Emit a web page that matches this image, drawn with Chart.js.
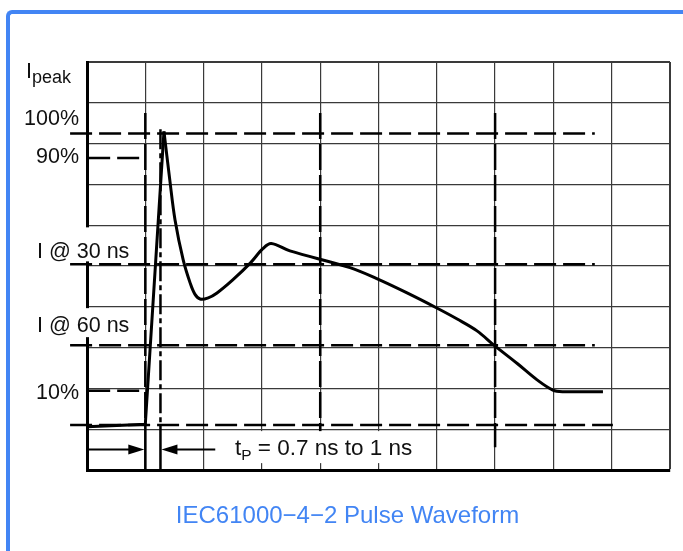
<!DOCTYPE html>
<html>
<head>
<meta charset="utf-8">
<title>IEC61000-4-2 Pulse Waveform</title>
<script src="https://cdn.jsdelivr.net/npm/chart.js@4.4.1/dist/chart.umd.min.js"></script>
<style>
  html, body { margin: 0; padding: 0; background: #fff; overflow: hidden; }
  #frame {
    position: absolute; left: 6px; top: 10px; width: 720px; height: 600px;
    border-top: 4px solid #4285f4; border-left: 4px solid #4285f4;
    border-top-left-radius: 6px;
  }
  #wrap { position: absolute; left: 0; top: 0; width: 683px; height: 551px; }
  #caption {
    position: absolute; left: 0; top: 501px; width: 695px; text-align: center;
    font-family: 'Liberation Sans', Arial, sans-serif; font-size: 24px; color: #4285f4;
  }
</style>
</head>
<body>
<div id="frame"></div>
<div id="wrap"><canvas id="chart" width="683" height="551"></canvas></div>
<div id="caption">IEC61000&#8722;4&#8722;2 Pulse Waveform</div>
<script>
// waveform, in grid divisions (10 x 10 grid)
const waveT = [0, 1.0, 1.32, 1.42, 1.51, 1.65, 1.77, 1.85, 1.94, 2.08, 2.23, 2.50, 2.80, 3.02, 3.16,
  3.48, 4.51, 4.97, 5.49, 6.00, 6.35, 6.69, 6.98, 7.38, 7.72, 7.99, 8.16, 8.85];
const waveI = [1.06, 1.12, 8.30, 7.11, 6.13, 5.15, 4.58, 4.31, 4.19, 4.22, 4.34, 4.66, 5.07, 5.43, 5.55,
  5.37, 4.96, 4.69, 4.34, 3.97, 3.70, 3.41, 3.06, 2.61, 2.21, 1.96, 1.92, 1.92];
const peakIndex = 2;

// reference levels and times
const levelLabels = ['100%', '90%', 'I @ 30 ns', 'I @ 60 ns', '10%'];
const levelValues = [8.25, 7.65, 5.04, 3.06, 1.94];
const baselineLevel = 1.1;
const markerNames = ['t10', 'tpeak', '30 ns', '60 ns'];
const markerTimes = [1.0, 1.26, 4.0, 7.0];
const riseText = ['t', 'P', ' = 0.7 ns to 1 ns'];

// where the dashed guides start and stop
const levelFrom = [-0.29, 0.02, -0.29, -0.29, 0.02];
const levelTo = [8.71, 0.97, 8.71, 8.71, 0.97];
const baselineSpan = [-0.29, 9.02];
const markerTop = [8.75, 8.35, 8.75, 8.75];
const markerBottom = [0, 0, 0.56, 0.56];
const arrowLevel = 0.5;

const FONT = "'Liberation Sans', Arial, sans-serif";

const datasets = [];
const line = (pts, extra) => Object.assign({
  data: pts, borderColor: '#000', borderWidth: 2.5, pointRadius: 0,
  tension: 0, clip: false, fill: false
}, extra);

// sharp rise, then the smooth decay
datasets.push(line(waveT.slice(0, peakIndex + 1).map((t, i) => ({ x: t, y: waveI[i] })), { borderWidth: 3 }));
datasets.push(line(waveT.slice(peakIndex).map((t, i) => ({ x: t, y: waveI[i + peakIndex] })),
  { borderWidth: 3, tension: 0.35 }));

levelValues.forEach((v, i) => {
  datasets.push(line([{ x: levelFrom[i], y: v }, { x: levelTo[i], y: v }], { borderDash: [22, 7] }));
});
datasets.push(line([{ x: baselineSpan[0], y: baselineLevel }, { x: baselineSpan[1], y: baselineLevel }],
  { borderDash: [22, 7] }));

markerTimes.forEach((t, i) => {
  const dash = markerNames[i] === 'tpeak' ? [20, 4, 5, 4] : [26, 5];
  const stop = markerBottom[i] === 0 ? baselineLevel : markerBottom[i];
  datasets.push(line([{ x: t, y: markerTop[i] }, { x: t, y: stop }], { borderDash: dash }));
  if (markerBottom[i] === 0) {
    datasets.push(line([{ x: t, y: baselineLevel }, { x: t, y: 0 }], {}));
  }
});

function arrow(ctx, x0, x1, y) {
  const dir = Math.sign(x1 - x0);
  ctx.beginPath();
  ctx.moveTo(x0, y);
  ctx.lineTo(x1 - dir * 12, y);
  ctx.lineWidth = 2;
  ctx.stroke();
  ctx.beginPath();
  ctx.moveTo(x1, y);
  ctx.lineTo(x1 - dir * 16, y - 5);
  ctx.lineTo(x1 - dir * 16, y + 5);
  ctx.closePath();
  ctx.fill();
}

const labelsPlugin = {
  id: 'labels',
  afterDatasetsDraw(chart) {
    const { ctx } = chart;
    const xs = chart.scales.x, ys = chart.scales.y;
    ctx.save();
    ctx.fillStyle = '#fff';
    // white boxes under the text that sits over the grid
    ctx.fillRect(33, ys.getPixelForValue(levelValues[2]) - 37, 104, 34);
    ctx.fillRect(33, ys.getPixelForValue(levelValues[3]) - 37, 104, 29);
    ctx.fillRect(xs.getPixelForValue(2.4), ys.getPixelForValue(baselineLevel) + 6,
      xs.getPixelForValue(5.7) - xs.getPixelForValue(2.4), 32);

    ctx.fillStyle = '#111';
    ctx.strokeStyle = '#000';
    ctx.textBaseline = 'alphabetic';
    ctx.font = '21.5px ' + FONT;
    const shift = [-8, 5.5, -6.5, -13.5, 8];
    levelLabels.forEach((lab, i) => {
      const y = ys.getPixelForValue(levelValues[i]) + shift[i];
      if (lab.startsWith('I')) {
        ctx.textAlign = 'left';
        ctx.fillText(lab, 37, y);
      } else {
        ctx.textAlign = 'right';
        ctx.fillText(lab, 79, y);
      }
    });

    // I peak
    ctx.textAlign = 'left';
    ctx.fillText('I', 26, 78);
    ctx.font = '18px ' + FONT;
    ctx.fillText('peak', 32, 83);

    // rise time arrows and text
    const ay = ys.getPixelForValue(arrowLevel);
    ctx.fillStyle = '#000';
    arrow(ctx, xs.getPixelForValue(0.03), xs.getPixelForValue(markerTimes[0]) - 1, ay);
    arrow(ctx, xs.getPixelForValue(2.2), xs.getPixelForValue(markerTimes[1]) + 1, ay);

    ctx.fillStyle = '#111';
    let tx = 235;
    ctx.font = '22.5px ' + FONT;
    ctx.fillText(riseText[0], tx, 455);
    tx += ctx.measureText(riseText[0]).width;
    ctx.font = '15.5px ' + FONT;
    ctx.fillText(riseText[1], tx, 460);
    tx += ctx.measureText(riseText[1]).width;
    ctx.font = '22.5px ' + FONT;
    ctx.fillText(riseText[2], tx, 455);
    ctx.restore();
  }
};

const gridLine = (ctx) => (ctx.index === 10 ? 2 : 1.2);

new Chart(document.getElementById('chart'), {
  type: 'line',
  data: { datasets },
  options: {
    responsive: false,
    animation: false,
    events: [],
    layout: { padding: { left: 87, right: 13, top: 62, bottom: 81 } },
    plugins: { legend: { display: false }, tooltip: { enabled: false } },
    scales: {
      x: {
        type: 'linear', min: 0, max: 10,
        ticks: { display: false, stepSize: 1 },
        grid: { color: '#3a3a3a', lineWidth: gridLine, drawTicks: false },
        border: { display: true, color: '#000', width: 3 }
      },
      y: {
        type: 'linear', min: 0, max: 10,
        ticks: { display: false, stepSize: 1 },
        grid: { color: '#3a3a3a', lineWidth: gridLine, drawTicks: false },
        border: { display: true, color: '#000', width: 3 }
      }
    }
  },
  plugins: [labelsPlugin]
});
</script>
</body>
</html>
